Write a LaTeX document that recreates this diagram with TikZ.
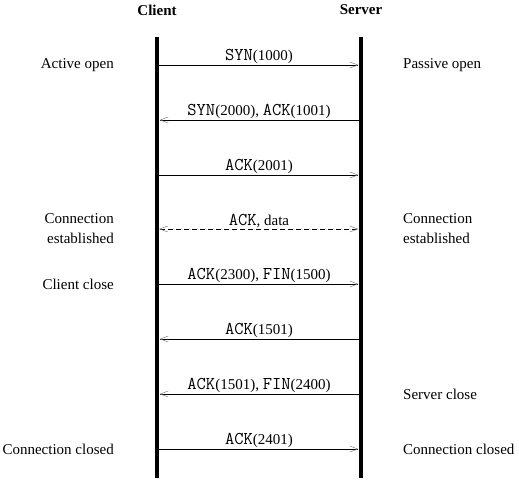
\documentclass[tikz,border=0pt]{standalone}
\usepackage{fontspec}
\setmainfont{Liberation Serif}
\usetikzlibrary{arrows.meta}
\newcommand{\mt}[1]{{\fontsize{18bp}{20bp}\selectfont\ttfamily #1}}
\tikzset{
  x=1bp, y=-1bp,
  lifeline/.style={line width=3.6bp, line cap=butt},
  msg/.style={line width=0.8bp, -{Straight Barb[length=8bp,width=6bp,line width=0.5bp,color=gray]}, shorten >=0.5bp},
  dmsg/.style={msg, dash pattern=on 5bp off 3bp, {Straight Barb[length=8bp,width=6bp,line width=0.5bp,color=gray]}-{Straight Barb[length=8bp,width=6bp,line width=0.5bp,color=gray]}},
  lbl/.style={font=\fontsize{15bp}{20bp}\selectfont, inner sep=0pt, above=1bp},
  lside/.style={font=\fontsize{15bp}{20bp}\selectfont, inner sep=0pt, align=right, anchor=east},
  rside/.style={font=\fontsize{15bp}{20bp}\selectfont, inner sep=0pt, align=left, anchor=west},
  head/.style={font=\fontsize{15bp}{20bp}\selectfont\bfseries, inner sep=0pt}
}
\begin{document}
\begin{tikzpicture}
\useasboundingbox (0,0) rectangle (519,480);
\node[head] (cl) at (157,10) {Client};
\node[head] (sv) at (361,10) {Server};
\coordinate (ct) at (157,37); \coordinate (cb) at (157,478);
\coordinate (st) at (361,37); \coordinate (sb) at (361,478);
\draw[lifeline] (ct) -- (cb);
\draw[lifeline] (st) -- (sb);
% message end points
\foreach \i/\y in {1/65,2/120,3/175,4/229,5/284,6/339,7/394,8/449}{
  \coordinate (c\i) at (159,\y);
  \coordinate (s\i) at (359,\y);
}
\draw[msg] (c1) -- node[lbl] (m1) {\mt{SYN}(1000)} (s1);
\draw[msg] (s2) -- node[lbl] (m2) {\mt{SYN}(2000), \mt{ACK}(1001)} (c2);
\draw[msg] (c3) -- node[lbl] (m3) {\mt{ACK}(2001)} (s3);
\draw[dmsg] (c4) -- node[lbl] (m4) {\mt{ACK}, data} (s4);
\draw[msg] (c5) -- node[lbl] (m5) {\mt{ACK}(2300), \mt{FIN}(1500)} (s5);
\draw[msg] (s6) -- node[lbl] (m6) {\mt{ACK}(1501)} (c6);
\draw[msg] (s7) -- node[lbl] (m7) {\mt{ACK}(1501), \mt{FIN}(2400)} (c7);
\draw[msg] (c8) -- node[lbl] (m8) {\mt{ACK}(2401)} (s8);
% side labels
\node[lside] (l1) at (114,65) {Active open};
\node[lside] (l4) at (114,229) {Connection\\established};
\node[lside] (l5) at (114,284) {Client close};
\node[lside] (l8) at (114,449) {Connection closed};
\node[rside] (r1) at (403,65) {Passive open};
\node[rside] (r4) at (403,229) {Connection\\established};
\node[rside] (r7) at (403,394) {Server close};
\node[rside] (r8) at (403,449) {Connection closed};
\end{tikzpicture}
\end{document}
